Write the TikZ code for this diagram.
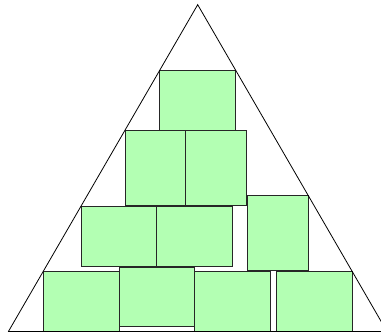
\documentclass[tikz,border=0pt]{standalone}
\begin{document}
\begin{tikzpicture}[x=1pt,y=-1pt,
  block/.style={draw=black!85, fill=boxgreen, line width=0.8pt, rectangle, inner sep=0pt, outer sep=0pt, anchor=north west},
  edge/.style={draw=black, line width=0.8pt}]
\definecolor{boxgreen}{HTML}{B3FFB3}
\useasboundingbox (0,0) rectangle (381,336);
\clip (0,0) rectangle (381,336);
% boxes (top-left corner, width, height)
\node[block, minimum width=75.6pt, minimum height=60.3pt] (r1) at (159.7,70) {};
\node[block, minimum width=60.7pt, minimum height=75pt] (r2a) at (125,130.7) {};
\node[block, minimum width=60.6pt, minimum height=75pt] (r2b) at (185.7,130.7) {};
\node[block, minimum width=75.4pt, minimum height=60pt] (r3a) at (81.3,206.7) {};
\node[block, minimum width=75.6pt, minimum height=60pt] (r3b) at (156.7,206.7) {};
\node[block, minimum width=60.3pt, minimum height=75pt] (r3c) at (247.7,195.7) {};
\node[block, minimum width=75.7pt, minimum height=60.4pt] (r4a) at (43.3,271.3) {};
\node[block, minimum width=75pt, minimum height=59.4pt] (r4b) at (119.3,267.3) {};
\node[block, minimum width=75.3pt, minimum height=60.4pt] (r4c) at (194.7,271.3) {};
\node[block, minimum width=75.7pt, minimum height=60.4pt] (r4d) at (276.3,271.3) {};
% triangle
\coordinate (apex) at (197.7,4.7);
\coordinate (bl) at (8.3,331.7);
\coordinate (br) at (387.1,331.7);
\coordinate (be) at (381,331.7);
\draw[edge] (bl) -- (apex) -- (br);
\draw[edge] (bl) -- (be);
\end{tikzpicture}
\end{document}
